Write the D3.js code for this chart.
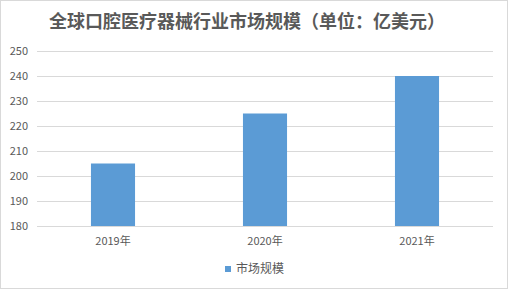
<!DOCTYPE html>
<html>
<head>
<meta charset="utf-8">
<script src="https://cdn.jsdelivr.net/npm/d3@7"></script>
<style>
  body { margin: 0; background: #fff; }
  text { font-family: "Noto Sans CJK SC", "Microsoft YaHei", sans-serif; }
</style>
</head>
<body>
<div id="chart"></div>
<script>
var years = ["2019年", "2020年", "2021年"];
var values = [205, 225, 240];
var yTicks = [180, 190, 200, 210, 220, 230, 240, 250];
var seriesName = "市场规模";
var title = "全球口腔医疗器械行业市场规模（单位：亿美元）";

var W = 508, H = 289;
var margin = {top: 51, right: 15, bottom: 63, left: 37};
var width = W - margin.left - margin.right,
    height = H - margin.top - margin.bottom;

var svg = d3.select("#chart").append("svg")
    .attr("width", W)
    .attr("height", H);

// chart border
svg.append("rect")
    .attr("x", 0.5).attr("y", 0.5)
    .attr("width", W - 1).attr("height", H - 1)
    .attr("fill", "#fff")
    .attr("stroke", "#d9d9d9");

svg.append("text")
    .attr("x", 247).attr("y", 28)
    .attr("text-anchor", "middle")
    .attr("font-size", 18)
    .attr("font-weight", "bold")
    .attr("fill", "#595959")
    .text(title);

var g = svg.append("g")
    .attr("transform", "translate(" + margin.left + "," + margin.top + ")");

var x = d3.scaleBand()
    .domain(years)
    .range([0, width])
    .paddingInner(0.71)
    .paddingOuter(0.355);

var y = d3.scaleLinear()
    .domain([180, 250])
    .range([height, 0]);

// gridlines
g.selectAll("line.grid")
    .data(yTicks)
    .enter().append("line")
    .attr("class", "grid")
    .attr("x1", 0).attr("x2", width)
    .attr("y1", function(d) { return Math.round(y(d)) + 0.5; })
    .attr("y2", function(d) { return Math.round(y(d)) + 0.5; })
    .attr("stroke", "#d9d9d9");

// y labels
g.selectAll("text.ytick")
    .data(yTicks)
    .enter().append("text")
    .attr("class", "ytick")
    .attr("x", -9)
    .attr("y", function(d) { return y(d); })
    .attr("dy", "0.35em")
    .attr("text-anchor", "end")
    .attr("font-size", 11)
    .attr("fill", "#595959")
    .text(function(d) { return d; });

g.selectAll("rect.bar")
    .data(values)
    .enter().append("rect")
    .attr("class", "bar")
    .attr("x", function(d, i) { return x(years[i]); })
    .attr("y", function(d) { return y(d); })
    .attr("width", x.bandwidth())
    .attr("height", function(d) { return height - y(d); })
    .attr("fill", "#5b9bd5");

// x labels
g.selectAll("text.xtick")
    .data(years)
    .enter().append("text")
    .attr("class", "xtick")
    .attr("x", function(d) { return x(d) + x.bandwidth() / 2; })
    .attr("y", height + 19)
    .attr("text-anchor", "middle")
    .attr("font-size", 11)
    .attr("fill", "#595959")
    .text(function(d) { return d; });

// legend
var legend = svg.append("g").attr("transform", "translate(225,266)");
legend.append("rect")
    .attr("width", 6).attr("height", 6)
    .attr("fill", "#5b9bd5");
legend.append("text")
    .attr("x", 11).attr("y", 3)
    .attr("dy", "0.35em")
    .attr("font-size", 12)
    .attr("fill", "#595959")
    .text(seriesName);
</script>
</body>
</html>
